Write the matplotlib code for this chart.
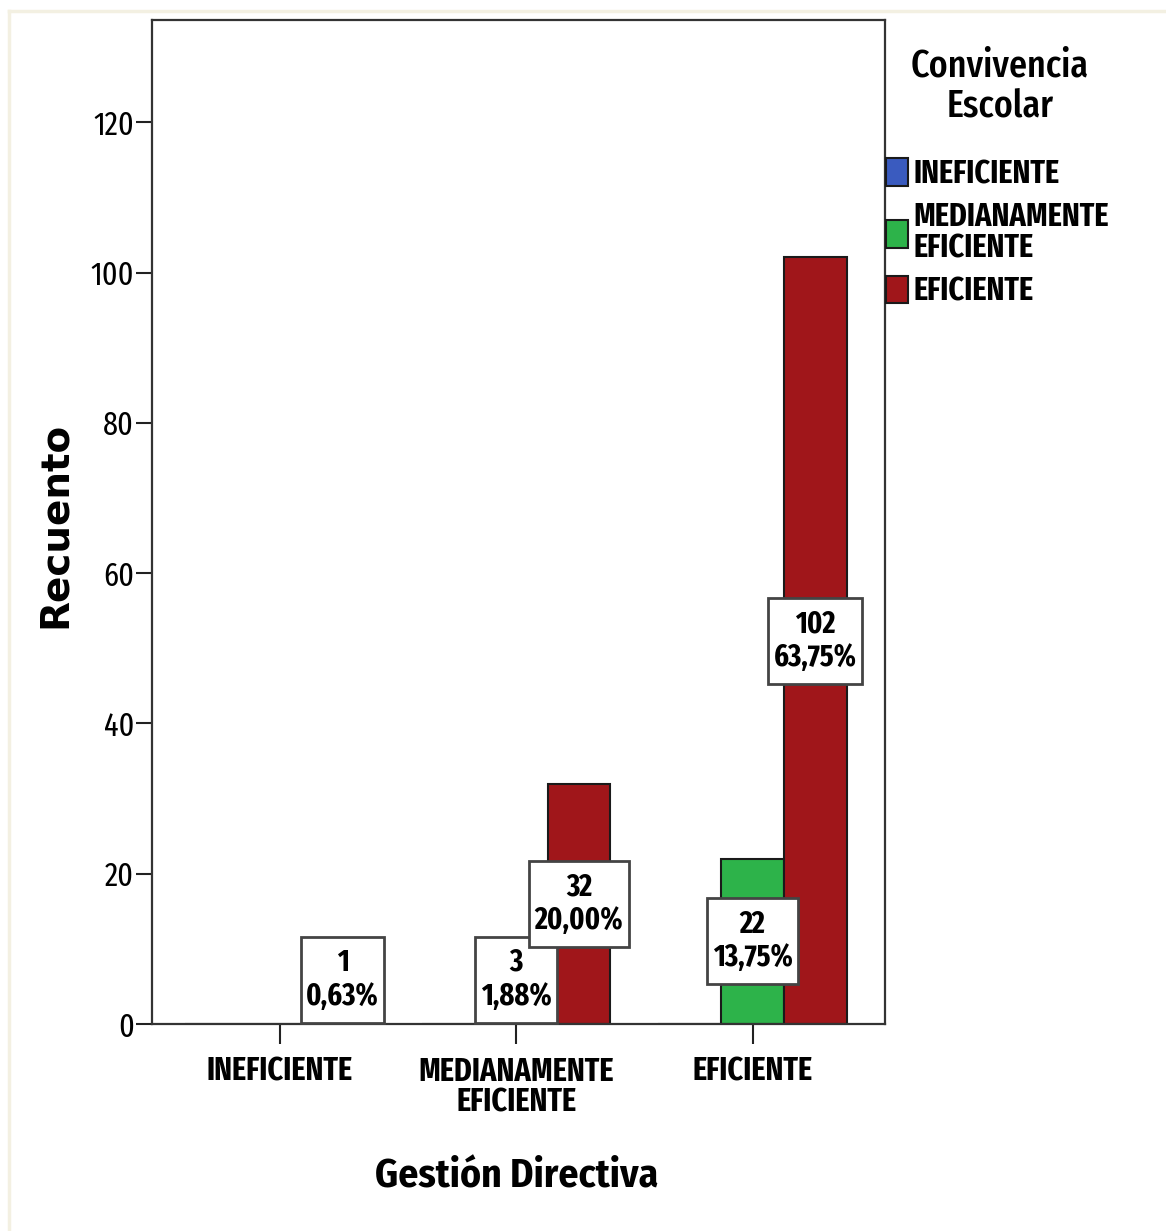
import numpy as np
import matplotlib
matplotlib.use("Agg")
import matplotlib.pyplot as plt
from matplotlib.lines import Line2D
from matplotlib.path import Path
from decimal import Decimal, ROUND_HALF_UP

narrow = ['Fira Sans Extra Condensed', 'Roboto Condensed', 'DejaVu Sans']
plt.rcParams['font.family'] = narrow

# crosstab counts: Gestion Directiva (groups) x Convivencia Escolar (series)
grupos = ['INEFICIENTE', 'MEDIANAMENTE\nEFICIENTE', 'EFICIENTE']
series = ['INEFICIENTE', 'MEDIANAMENTE\nEFICIENTE', 'EFICIENTE']
conteos = {
    'INEFICIENTE': [0, 0, 0],
    'MEDIANAMENTE\nEFICIENTE': [0, 3, 22],
    'EFICIENTE': [1, 32, 102],
}
colores = ['#3a5bbf', '#2db34a', '#a0161a']
yticks = [0, 20, 40, 60, 80, 100, 120]

total = sum(sum(v) for v in conteos.values())


def porcentaje(v):
    p = (Decimal(v) * 100 / Decimal(total)).quantize(Decimal('0.01'), ROUND_HALF_UP)
    return str(p).replace('.', ',') + '%'


def caja(x0, y0, width, height, mutation_size):
    # rectangle with less padding at the sides than above/below
    px, py = 0.18 * mutation_size, 0.36 * mutation_size
    return Path([(x0 - px, y0 - py), (x0 + width + px, y0 - py),
                 (x0 + width + px, y0 + height + py), (x0 - px, y0 + height + py),
                 (x0 - px, y0 - py)], closed=True)


fig = plt.figure(figsize=(11.66, 12.31), dpi=100)
ax = fig.add_axes([152 / 1166, 1 - 1024 / 1231, 733 / 1166, 1004 / 1231])

x = np.arange(len(grupos))
ancho = 0.266
for i, (nombre, col) in enumerate(zip(series, colores)):
    ax.bar(x + (i - 1) * ancho, conteos[nombre], ancho, color=col,
           edgecolor='#1a1a1a', linewidth=1.5, label=nombre, zorder=2)

# value labels: count and percent of total, boxed
for i, nombre in enumerate(series):
    for g, v in enumerate(conteos[nombre]):
        if v == 0:
            continue
        ax.text(x[g] + (i - 1) * ancho, max(v / 2, 5.9), f'{v}\n{porcentaje(v)}',
                ha='center', va='center', fontsize=22, fontweight='bold',
                linespacing=1.16, zorder=5,
                bbox=dict(boxstyle=caja, fc='white', ec='#444444', lw=2))

ax.set_xlim(-0.54, 2.56)
ax.set_ylim(0, 133.6)
ax.set_yticks(yticks)
ax.set_yticklabels([str(t) for t in yticks], fontsize=23.5)
ax.set_xticks(x)
ax.set_xticklabels(grupos, fontsize=23.5, fontweight='bold', linespacing=0.98)
ax.tick_params(axis='y', length=11.5, width=1.5, pad=1.5, colors='#222222')
ax.tick_params(axis='x', length=14.5, width=1.5, pad=8.5, colors='#222222')
ax.tick_params(labelcolor='black')
for s in ax.spines.values():
    s.set_linewidth(1.6)
    s.set_color('#333333')

ax.set_ylabel('Recuento', fontsize=28, fontweight='bold', family='DejaVu Sans')
ax.yaxis.label.set_va('center')
ax.yaxis.set_label_coords(-0.132, 0.497)
ax.set_xlabel('Gestión Directiva', fontsize=28.5, fontweight='bold',
              family=['Fira Sans Condensed', 'Roboto Condensed', 'DejaVu Sans'])
ax.xaxis.label.set_va('center')
ax.xaxis.set_label_coords(0.498, -0.152)

# legend title and entries to the right of the plot
fig.text(1000 / 1166, 1 - 86 / 1231, 'Convivencia\nEscolar', ha='center',
         va='center', fontsize=28, fontweight='medium', linespacing=1.1)
leg = ax.legend(loc='upper left', bbox_to_anchor=(1.0 + 1 / 733, 0.8625),
                frameon=False, borderpad=0, borderaxespad=0, fontsize=23.5,
                handlelength=0.68, handleheight=0.92, handletextpad=0.15,
                labelspacing=0.34)
for t in leg.get_texts():
    t.set_fontweight('bold')
    t.set_linespacing(0.98)
for h in leg.legend_handles:
    h.set_edgecolor('#1a1a1a')
    h.set_linewidth(1.5)

# faint frame around the output
fig.add_artist(Line2D([9 / 1166, 9 / 1166], [0, 1 - 11 / 1231],
                      transform=fig.transFigure, color='#f3f0e2', lw=2.5))
fig.add_artist(Line2D([9 / 1166, 1], [1 - 11 / 1231, 1 - 11 / 1231],
                      transform=fig.transFigure, color='#f3f0e2', lw=2.5))

fig.savefig('out.png', dpi=100, facecolor='white')
